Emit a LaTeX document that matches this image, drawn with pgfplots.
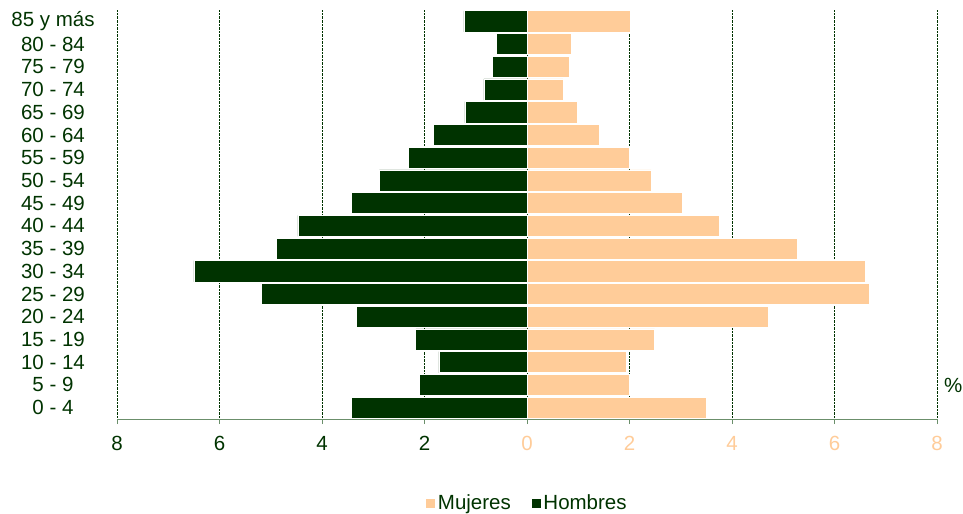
\documentclass[border=0pt]{standalone}
\usepackage{pgfplots}
\pgfplotsset{compat=1.18}
\usepackage{fontspec}
\setmainfont{Liberation Sans}

\definecolor{hombres}{HTML}{003300}
\definecolor{mujeres}{HTML}{FFCC99}
\definecolor{ejelinea}{HTML}{6B8F6B}

\begin{document}
\begin{tikzpicture}[font=\fontsize{20.5bp}{22bp}\selectfont]
\useasboundingbox (-117bp,-95bp) rectangle (846bp,419bp);
\begin{axis}[
    xbar,
    bar shift=0pt,
    bar width=0.93,
    scale only axis,
    width=820bp,
    height=409bp,
    xmin=-8, xmax=8,
    ymin=-0.5, ymax=17.5,
    axis line style={draw=none},
    xtick={-8,-6,...,8},
    xticklabels={\textcolor{hombres}{8},\textcolor{hombres}{6},\textcolor{hombres}{4},\textcolor{hombres}{2},
                 \textcolor{mujeres}{0},\textcolor{mujeres}{2},\textcolor{mujeres}{4},\textcolor{mujeres}{6},\textcolor{mujeres}{8}},
    xtick pos=bottom,
    tick align=outside,
    major tick length=5bp,
    x tick style={ejelinea, line width=0.8pt},
    xticklabel style={anchor=north, inner sep=0pt, yshift=-12bp},
    ytick={0,...,17},
    yticklabels={0 - 4,5 - 9,10 - 14,15 - 19,20 - 24,25 - 29,30 - 34,35 - 39,40 - 44,
                 45 - 49,50 - 54,55 - 59,60 - 64,65 - 69,70 - 74,75 - 79,80 - 84,85 y más},
    y tick style={draw=none},
    yticklabel style={anchor=center, text=hombres, inner sep=0pt, xshift=-59bp},
    xmajorgrids,
    major grid style={hombres, densely dotted, line width=0.6pt},
    clip=false,
    legend style={at={(0.5,-0.205)}, anchor=center, draw=none, fill=none,
                  legend columns=2, text=hombres,
                  /tikz/every even column/.append style={column sep=18bp}},
    legend image code/.code={\fill[#1] (0bp,-5bp) rectangle (10bp,5bp);},
]
\addplot[fill=mujeres, draw=white, line width=0.6pt] coordinates {
(3.49,0) (2.00,1) (1.93,2) (2.49,3) (4.71,4) (6.68,5) (6.60,6) (5.27,7) (3.75,8)
(3.03,9) (2.42,10) (2.00,11) (1.42,12) (0.99,13) (0.70,14) (0.83,15) (0.87,16) (2.02,17)};
\addlegendentry{Mujeres}
\addplot[fill=hombres, draw=white, line width=0.6pt] coordinates {
(-3.42,0) (-2.10,1) (-1.72,2) (-2.17,3) (-3.33,4) (-5.18,5) (-6.50,6) (-4.89,7) (-4.47,8)
(-3.42,9) (-2.88,10) (-2.32,11) (-1.83,12) (-1.21,13) (-0.84,14) (-0.68,15) (-0.60,16) (-1.23,17)};
\addlegendentry{Hombres}
\draw[ejelinea, line width=1pt] (rel axis cs:0,0) -- (rel axis cs:1,0);
\node[anchor=west, text=hombres, inner sep=0pt] at ([xshift=7bp]rel axis cs:1,0.083) {\%};
\end{axis}
\end{tikzpicture}
\end{document}
